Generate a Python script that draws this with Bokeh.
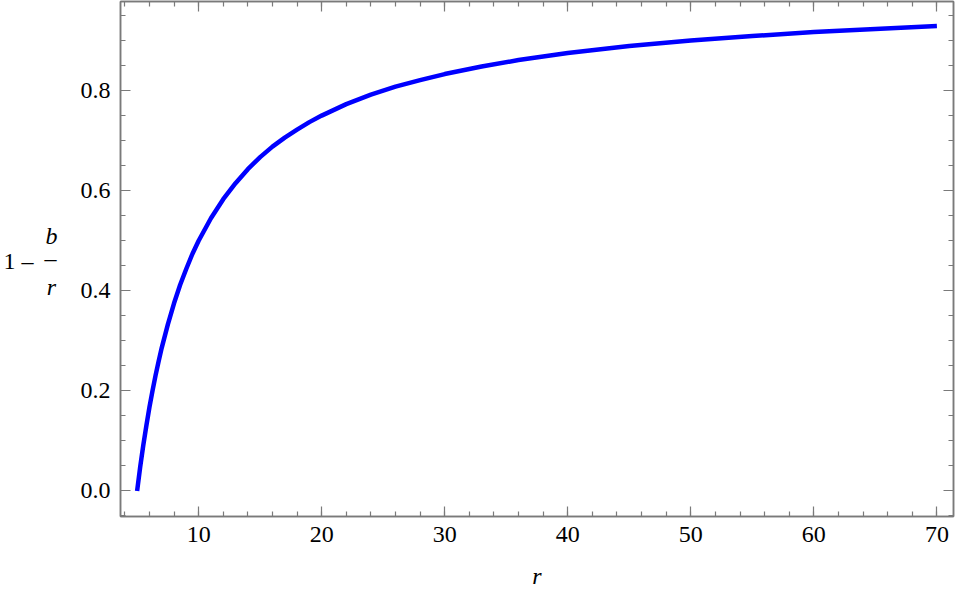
from bokeh.plotting import figure
from bokeh.layouts import row
from bokeh.models import (Range1d, LinearAxis, SingleIntervalTicker, NumeralTickFormatter,
                          CustomJSTickFormatter)
from bokeh.core.properties import value
from bokeh.embed import file_html
from bokeh.resources import INLINE

# values
r_vals = [5, 5.25, 5.5, 5.75, 6, 6.25, 6.5, 6.75, 7, 7.5, 8, 8.5, 9, 9.5, 10, 11, 12, 13, 14,
          15, 16, 17, 18, 19, 20, 22, 24, 26, 28, 30, 33, 36, 40, 45, 50, 55, 60, 65, 70]
y_vals = [0.000, 0.048, 0.091, 0.130, 0.167, 0.200, 0.231, 0.259, 0.286, 0.333, 0.375,
          0.412, 0.444, 0.474, 0.500, 0.545, 0.583, 0.615, 0.643, 0.667, 0.688, 0.706,
          0.722, 0.737, 0.750, 0.773, 0.792, 0.808, 0.821, 0.833, 0.848, 0.861, 0.875,
          0.889, 0.900, 0.909, 0.917, 0.923, 0.929]

FONT = "Liberation Serif"
GRAY = "#7a7a7a"
H = 591
LEFT_W = 70
TOP = 1
BOTTOM_BORDER = 73

# ---- main plot ----
p = figure(width=955 - LEFT_W, height=H, output_backend="svg", toolbar_location=None,
           x_range=Range1d(3.65, 71.35), y_range=Range1d(-0.051, 0.978),
           x_axis_location=None, y_axis_location=None,
           min_border_left=120 - LEFT_W, min_border_right=2, min_border_top=TOP,
           min_border_bottom=BOTTOM_BORDER)
p.grid.visible = False
p.outline_line_color = GRAY
p.outline_line_width = 1.5
p.background_fill_color = "white"
p.border_fill_color = "white"

def style(ax, show_labels):
    ax.axis_line_color = GRAY
    ax.axis_line_width = 1.5
    ax.major_tick_line_color = GRAY
    ax.minor_tick_line_color = GRAY
    ax.major_tick_line_width = 1.2
    ax.minor_tick_line_width = 1.2
    ax.major_tick_in = 10
    ax.major_tick_out = 0
    ax.minor_tick_in = 5
    ax.minor_tick_out = 0
    ax.major_label_text_font = FONT
    ax.major_label_text_color = "black"
    ax.major_label_text_font_size = "24px"
    if not show_labels:
        ax.formatter = CustomJSTickFormatter(code="return '';")
        ax.major_label_standoff = 0

xt = SingleIntervalTicker(interval=10, num_minor_ticks=5)
yt = SingleIntervalTicker(interval=0.2, num_minor_ticks=4)

bottom = LinearAxis(ticker=xt, formatter=NumeralTickFormatter(format="0"))
style(bottom, True)
bottom.major_label_standoff = 10
bottom.axis_label = "r"
bottom.axis_label_text_font = FONT
bottom.axis_label_text_font_style = "italic"
bottom.axis_label_text_font_size = "24px"
bottom.axis_label_text_color = "black"
bottom.axis_label_standoff = 18
p.add_layout(bottom, "below")

top = LinearAxis(ticker=xt)
style(top, False)
p.add_layout(top, "above")

left = LinearAxis(ticker=yt, formatter=NumeralTickFormatter(format="0.0"))
style(left, True)
left.major_label_standoff = 10
p.add_layout(left, "left")

right = LinearAxis(ticker=yt)
style(right, False)
p.add_layout(right, "right")

p.line(r_vals, y_vals, line_color="#0000ff", line_width=4.5, line_cap="butt", line_join="round")

# ---- y-axis title panel: 1 - b/r (frame aligned with the main frame; y in pixels from top) ----
frame_bottom = H - BOTTOM_BORDER
q = figure(width=LEFT_W, height=H, output_backend="svg", toolbar_location=None,
           x_range=Range1d(0, LEFT_W), y_range=Range1d(frame_bottom, TOP),
           x_axis_location=None, y_axis_location=None, min_border=0,
           min_border_top=TOP, min_border_bottom=BOTTOM_BORDER)
q.grid.visible = False
q.outline_line_color = None
q.background_fill_color = "white"
q.border_fill_color = "white"

tk = dict(text_font=value(FONT), text_font_size="24px", text_color="black",
          text_baseline="middle")
q.text(x=[3], y=[262], text=["1 –"], text_align="left", **tk)
q.text(x=[51], y=[236], text=["b"], text_align="center", text_font_style="italic", **tk)
q.text(x=[50], y=[258], text=["–"], text_align="center", **tk)
q.text(x=[51], y=[288], text=["r"], text_align="center", text_font_style="italic", **tk)

layout = row(q, p, spacing=0)
open("out.html", "w").write(file_html(layout, INLINE))
